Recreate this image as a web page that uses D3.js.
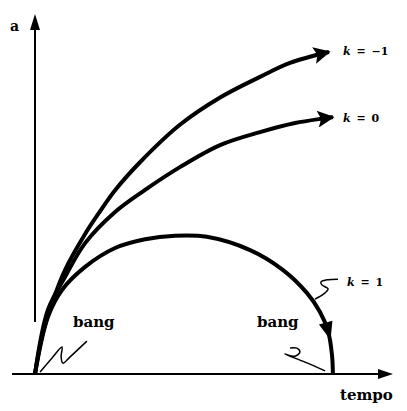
<!DOCTYPE html>
<html>
<head>
<meta charset="utf-8">
<script src="https://cdn.jsdelivr.net/npm/d3@7"></script>
<style>
  body { margin: 0; background: #fff; }
  text { font-family: "DejaVu Serif", serif; fill: #000; }
</style>
</head>
<body>
<div id="chart"></div>
<script>
// Curves a(t) for k = -1, 0, 1 (arbitrary units)
var tOpen = [0, 0.23, 0.57, 1.0, 1.67, 2.17, 2.67, 3.5, 4.83, 6.17, 7.5, 8.5, 9.8];
var aOpen = [0, 1.06, 2.03, 2.97, 4.0, 4.65, 5.25, 6.05, 7.12, 7.9, 8.49, 8.89, 9.2];

var tFlat = [0, 0.43, 1.0, 1.67, 2.67, 3.67, 4.83, 6.17, 7.5, 8.67, 9.93];
var aFlat = [0, 1.83, 2.77, 3.74, 4.63, 5.26, 5.91, 6.54, 6.91, 7.17, 7.34];

var tClosed = [0, 0.43, 0.9, 1.67, 2.67, 3.67, 4.67, 5.73, 7.17, 8.27, 9.07, 9.5, 9.77, 9.9, 9.93];
var aClosed = [0, 1.63, 2.4, 3.06, 3.6, 3.85, 3.95, 3.92, 3.54, 2.97, 2.31, 1.77, 1.22, 0.54, 0];

var curveLabels = ["= \u22121", "= 0", "= 1"];

// Hand drawn pointers (same units)
var bangLeftT = [0.17, 0.57, 0.9, 0.87, 0.93, 1.17, 1.73];
var bangLeftA = [0.06, 0.46, 0.77, 0.49, 0.31, 0.49, 0.94];
var bangRightT = [8.5, 8.73, 8.83, 8.67, 8.33, 9.0, 9.67];
var bangRightA = [0.74, 0.74, 0.63, 0.51, 0.57, 0.34, 0.09];
var kOneT = [9.33, 9.63, 9.77, 9.57, 9.53, 9.73, 10.1];
var kOneA = [2.14, 2.29, 2.43, 2.54, 2.63, 2.69, 2.71];

var width = 407, height = 411;

var svg = d3.select("#chart").append("svg")
  .attr("width", width)
  .attr("height", height);

var x = d3.scaleLinear().domain([0, 10]).range([35, 335]);
var y = d3.scaleLinear().domain([0, 10]).range([374, 24]);

// arrow head marker
var defs = svg.append("defs");
defs.append("marker")
    .attr("id", "head")
    .attr("viewBox", "0 0 10 10")
    .attr("refX", 9)
    .attr("refY", 5)
    .attr("markerWidth", 20)
    .attr("markerHeight", 17)
    .attr("markerUnits", "userSpaceOnUse")
    .attr("orient", "auto")
  .append("path")
    .attr("d", "M0,0 L10,5 L0,10 L2,5 Z")
    .attr("fill", "#000");

// axes
svg.append("line")
  .attr("x1", 12).attr("x2", 380)
  .attr("y1", y(0)).attr("y2", y(0))
  .attr("stroke", "#000").attr("stroke-width", 2);
svg.append("path")
  .attr("d", "M378," + (y(0) - 5) + " L393," + y(0) + " L378," + (y(0) + 5) + " Z")
  .attr("fill", "#000");

svg.append("line")
  .attr("x1", x(0)).attr("x2", x(0))
  .attr("y1", 322).attr("y2", 28)
  .attr("stroke", "#000").attr("stroke-width", 2);
svg.append("path")
  .attr("d", "M" + (x(0) - 5) + ",30 L" + x(0) + ",14 L" + (x(0) + 5) + ",30 Z")
  .attr("fill", "#000");

svg.append("text")
  .attr("x", 10).attr("y", 31)
  .style("font-size", "14px")
  .style("font-weight", "bold")
  .text("a");

svg.append("text")
  .attr("x", 340).attr("y", 400)
  .style("font-size", "15px")
  .style("font-weight", "bold")
  .text("tempo");

// curves
var line = d3.line()
  .x(function(d) { return x(d[0]); })
  .y(function(d) { return y(d[1]); })
  .curve(d3.curveCatmullRom.alpha(0.5));

function pts(ts, as) {
  return ts.map(function(t, i) { return [t, as[i]]; });
}

var series = [pts(tOpen, aOpen), pts(tFlat, aFlat), pts(tClosed, aClosed)];

svg.selectAll(".curve")
  .data(series)
  .enter()
  .append("path")
    .attr("class", "curve")
    .attr("d", line)
    .attr("fill", "none")
    .attr("stroke", "#000")
    .attr("stroke-width", 4)
    .attr("marker-end", function(d, i) { return i < 2 ? "url(#head)" : null; });

// downward arrow on the closed curve
var ci = 12;
var ang = Math.atan2(y(aClosed[ci + 1]) - y(aClosed[ci - 1]), x(tClosed[ci + 1]) - x(tClosed[ci - 1])) * 180 / Math.PI;
svg.append("path")
  .attr("d", "M-9,-7 L9,0 L-9,7 Z")
  .attr("transform", "translate(" + x(tClosed[ci]) + "," + y(aClosed[ci]) + ") rotate(" + ang + ")")
  .attr("fill", "#000");

// curve labels
var labelPos = [[343, 55], [343, 122], [347, 286]];
labelPos.forEach(function(p, i) {
  var t = svg.append("text")
    .attr("x", p[0]).attr("y", p[1])
    .style("font-size", "11px")
    .style("font-weight", "bold")
    .style("word-spacing", "2px");
  t.append("tspan").style("font-style", "italic").text("k");
  t.append("tspan").text(" " + curveLabels[i]);
});

// bang labels
svg.append("text")
  .attr("x", 73).attr("y", 327)
  .style("font-size", "15px")
  .style("font-weight", "bold")
  .text("bang");
svg.append("text")
  .attr("x", 257).attr("y", 327)
  .style("font-size", "15px")
  .style("font-weight", "bold")
  .text("bang");

// pointers
var scribble = d3.line()
  .x(function(d) { return x(d[0]); })
  .y(function(d) { return y(d[1]); })
  .curve(d3.curveCatmullRom);

[pts(bangLeftT, bangLeftA), pts(bangRightT, bangRightA), pts(kOneT, kOneA)].forEach(function(d) {
  svg.append("path")
    .attr("d", scribble(d))
    .attr("fill", "none")
    .attr("stroke", "#000")
    .attr("stroke-width", 1.5);
});
</script>
</body>
</html>
